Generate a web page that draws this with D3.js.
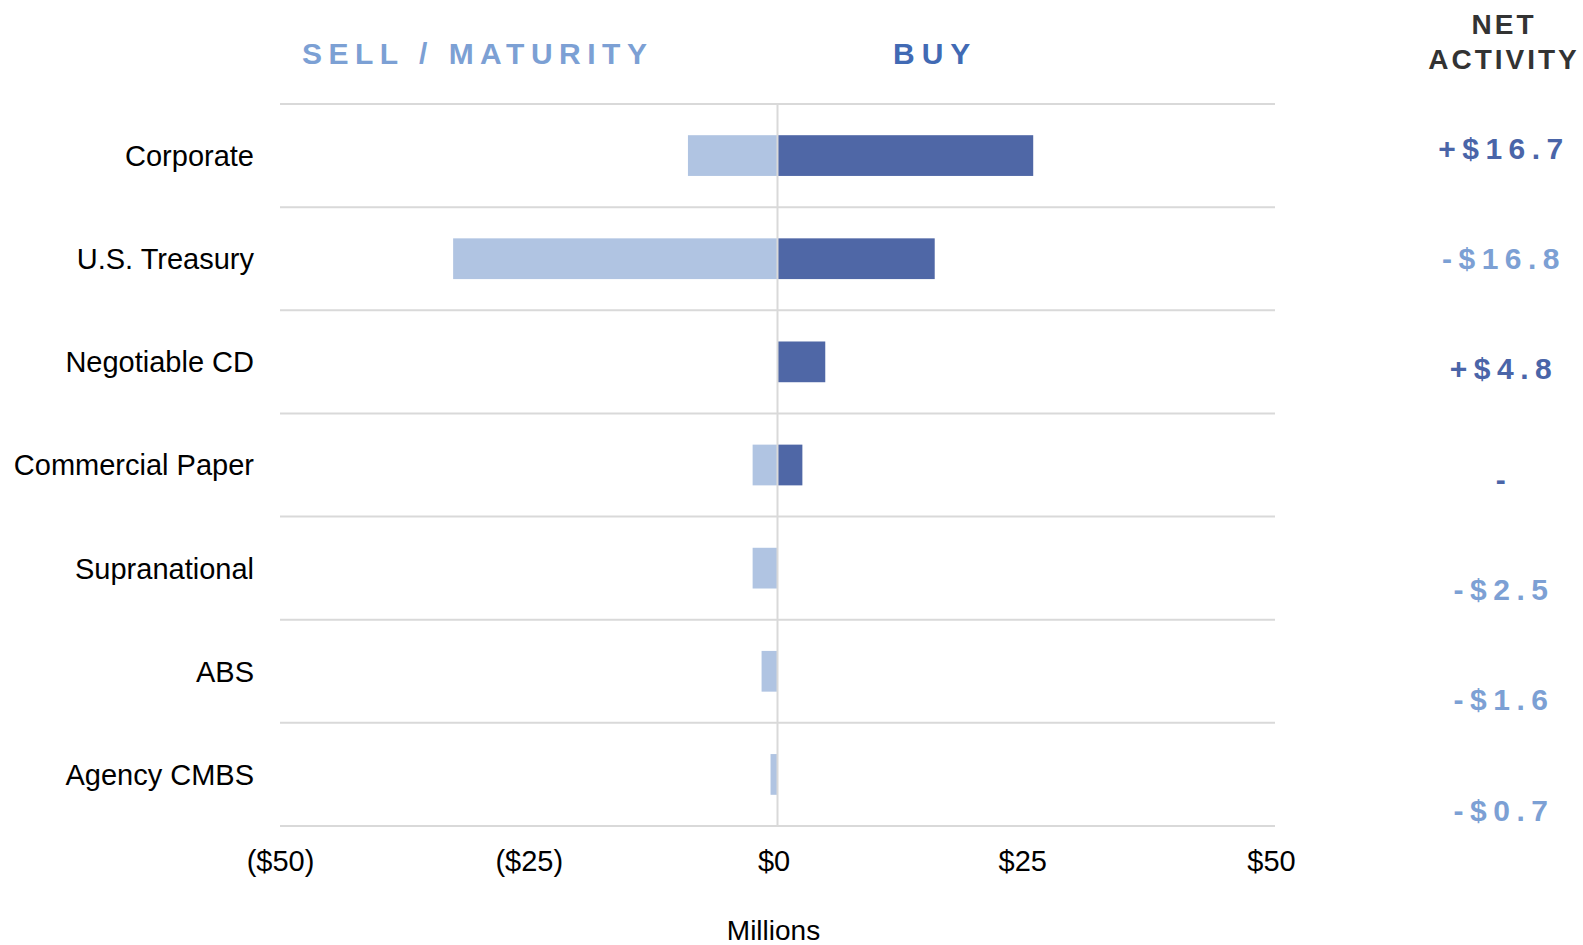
<!DOCTYPE html>
<html>
<head>
<meta charset="utf-8">
<script src="https://cdn.jsdelivr.net/npm/d3@7"></script>
<style>
  html, body { margin: 0; padding: 0; background: #fff; }
  svg { display: block; font-family: "Liberation Sans", Arial, sans-serif; }
</style>
</head>
<body>
<svg id="chart" width="1583" height="945"></svg>
<script>
// Portfolio activity by sector, $ millions
const categories = ["Corporate", "U.S. Treasury", "Negotiable CD", "Commercial Paper", "Supranational", "ABS", "Agency CMBS"];
const sellValues = [-9.0, -32.6, 0, -2.5, -2.5, -1.6, -0.7];
const buyValues  = [25.7, 15.8, 4.8, 2.5, 0, 0, 0];
const tickValues = [-50, -25, 0, 25, 50];
const tickLabels = ["($50)", "($25)", "$0", "$25", "$50"];

const netValues = categories.map((c, i) => Math.round((buyValues[i] + sellValues[i]) * 10) / 10);

const colors = {
  buy: "#4f67a6",
  sell: "#b0c4e2",
  buyText: "#4a65a8",
  sellText: "#7ca0d4",
  buyHead: "#416ab4",
  grid: "#d9d9d9",
  netHead: "#333333"
};

const svg = d3.select("#chart");

const x = d3.scaleLinear().domain([-50, 50]).range([280, 1275]);
const y = d3.scaleBand().domain(categories).range([104, 826]).paddingInner(0.605).paddingOuter(0.3025);
const netY = d3.scalePoint().domain(categories).range([148, 810]);

// Row separators
const gap = (y.step() - y.bandwidth()) / 2;
const bounds = categories.map(c => y(c) - gap).concat([y.range()[1]]);
svg.append("g").selectAll("line").data(bounds).join("line")
  .attr("x1", x.range()[0]).attr("x2", x.range()[1])
  .attr("y1", d => d).attr("y2", d => d)
  .attr("stroke", colors.grid).attr("stroke-width", 2);

// Sell / maturity bars (left of zero)
svg.append("g").selectAll("rect").data(categories).join("rect")
  .attr("x", (c, i) => x(sellValues[i]))
  .attr("y", c => y(c))
  .attr("width", (c, i) => x(0) - x(sellValues[i]))
  .attr("height", y.bandwidth())
  .attr("fill", colors.sell);

// Buy bars (right of zero)
svg.append("g").selectAll("rect").data(categories).join("rect")
  .attr("x", x(0))
  .attr("y", c => y(c))
  .attr("width", (c, i) => x(buyValues[i]) - x(0))
  .attr("height", y.bandwidth())
  .attr("fill", colors.buy);

// Zero line
svg.append("line")
  .attr("x1", x(0)).attr("x2", x(0))
  .attr("y1", y.range()[0]).attr("y2", y.range()[1])
  .attr("stroke", colors.grid).attr("stroke-width", 2);

// Category labels
svg.append("g").selectAll("text").data(categories).join("text")
  .attr("x", 254)
  .attr("y", c => y(c) + y.bandwidth() / 2)
  .attr("dy", "0.36em")
  .attr("text-anchor", "end")
  .attr("font-size", 29)
  .attr("fill", "#000")
  .text(c => c);

// Bottom axis
const axis = d3.axisBottom(x)
  .tickValues(tickValues)
  .tickFormat((d, i) => tickLabels[i])
  .tickSize(0)
  .tickPadding(24);
const axisG = svg.append("g")
  .attr("transform", `translate(0,${y.range()[1]})`)
  .call(axis);
axisG.select(".domain").remove();
axisG.selectAll("text")
  .attr("font-size", 29)
  .attr("font-family", "Liberation Sans, Arial, sans-serif")
  .attr("fill", "#000")
  .attr("dx", d => d >= 0 ? -4 : 0);

svg.append("text")
  .attr("x", x(0) - 4).attr("y", 940)
  .attr("text-anchor", "middle")
  .attr("font-size", 28)
  .attr("fill", "#000")
  .text("Millions");

// Column headers
svg.append("text")
  .attr("x", 302).attr("y", 64)
  .attr("font-size", 30).attr("font-weight", "bold")
  .attr("letter-spacing", 6.5)
  .attr("fill", colors.sellText)
  .text("SELL / MATURITY");

svg.append("text")
  .attr("x", 893).attr("y", 64)
  .attr("font-size", 30).attr("font-weight", "bold")
  .attr("letter-spacing", 7)
  .attr("fill", colors.buyHead)
  .text("BUY");

const netHead = svg.append("text")
  .attr("text-anchor", "middle")
  .attr("font-size", 28).attr("font-weight", "bold")
  .attr("letter-spacing", 3)
  .attr("fill", colors.netHead);
netHead.append("tspan").attr("x", 1504).attr("y", 34).text("NET");
netHead.append("tspan").attr("x", 1504).attr("y", 69).text("ACTIVITY");

// Net activity column
const fmtNet = v => v === 0 ? "-" : (v > 0 ? "+" : "-") + "$" + d3.format(".1f")(Math.abs(v));
svg.append("g").selectAll("text").data(categories).join("text")
  .attr("x", 1504)
  .attr("y", c => netY(c))
  .attr("dy", "0.36em")
  .attr("text-anchor", "middle")
  .attr("font-size", 30).attr("font-weight", "bold")
  .attr("letter-spacing", 6.5)
  .attr("fill", (c, i) => netValues[i] < 0 ? colors.sellText : colors.buyText)
  .text((c, i) => fmtNet(netValues[i]));
</script>
</body>
</html>
